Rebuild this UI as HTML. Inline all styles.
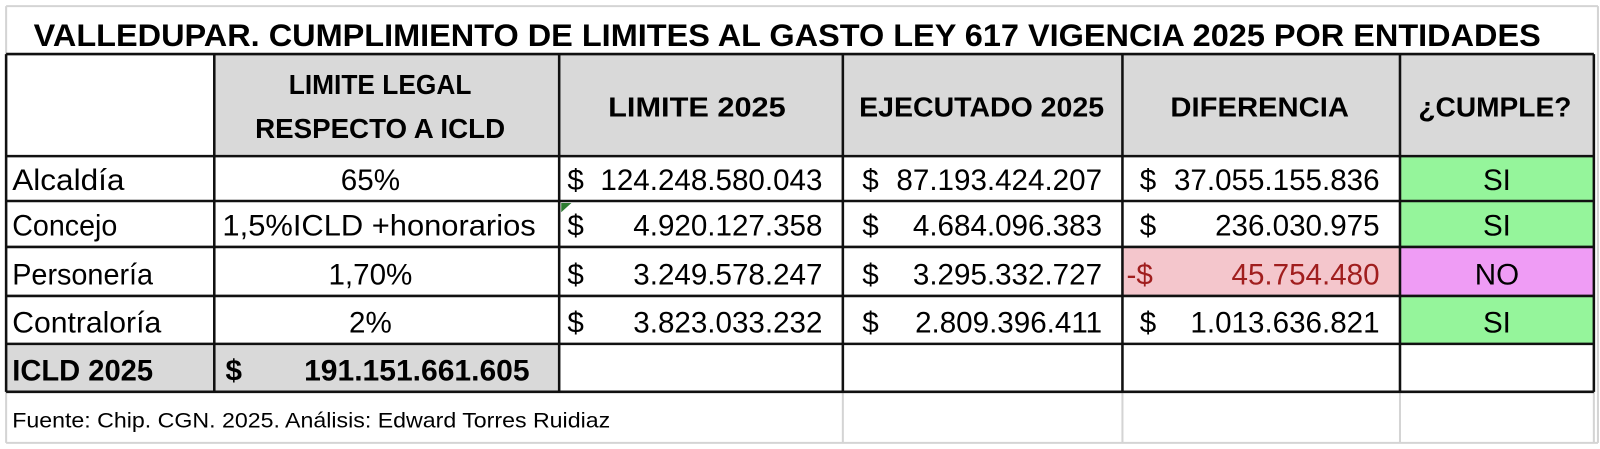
<!DOCTYPE html>
<html><head><meta charset="utf-8"><style>html,body{margin:0;padding:0;background:#fff;}svg{display:block}</style></head>
<body>
<svg width="1600" height="449" xmlns="http://www.w3.org/2000/svg" font-family="'Liberation Sans', sans-serif">
<rect width="1600" height="449" fill="#fff"/>
<g transform="scale(1.0204 1.0204)">
<rect x="210" y="53" width="1352" height="100" fill="#d9d9d9"/>
<rect x="6" y="337" width="542" height="47" fill="#d9d9d9"/>
<rect x="1372" y="153" width="190" height="44" fill="#95f59b"/>
<rect x="1372" y="197" width="190" height="45" fill="#95f59b"/>
<rect x="1372" y="290" width="190" height="47" fill="#95f59b"/>
<rect x="1372" y="242" width="190" height="48" fill="#ef9cf5"/>
<rect x="1100" y="242" width="272" height="48" fill="#f4c6cc"/>
<g stroke="#d4d4d4" stroke-width="2" fill="none">
<line x1="6" y1="6" x2="1566" y2="6"/>
<line x1="6" y1="6" x2="6" y2="434"/>
<line x1="1566" y1="6" x2="1566" y2="434"/>
<line x1="6" y1="434" x2="1566" y2="434"/>
<line x1="826" y1="384" x2="826" y2="434"/>
<line x1="1100" y1="384" x2="1100" y2="434"/>
<line x1="1372" y1="384" x2="1372" y2="434"/>
<line x1="1562" y1="384" x2="1562" y2="434"/>
</g>
<g stroke="#111" stroke-width="2.5" fill="none">
<line x1="6" y1="53" x2="1562" y2="53"/>
<line x1="6" y1="153" x2="1562" y2="153"/>
<line x1="6" y1="197" x2="1562" y2="197"/>
<line x1="6" y1="242" x2="1562" y2="242"/>
<line x1="6" y1="290" x2="1562" y2="290"/>
<line x1="6" y1="337" x2="1562" y2="337"/>
<line x1="6" y1="384" x2="1562" y2="384"/>
<line x1="6" y1="53" x2="6" y2="384"/>
<line x1="210" y1="53" x2="210" y2="384"/>
<line x1="548" y1="53" x2="548" y2="384"/>
<line x1="826" y1="53" x2="826" y2="384"/>
<line x1="1100" y1="53" x2="1100" y2="384"/>
<line x1="1372" y1="53" x2="1372" y2="384"/>
<line x1="1562" y1="53" x2="1562" y2="384"/>
</g>
<polygon points="550,199 560,199 550,208" fill="#2e7d32"/>
<text x="33" y="45" font-size="31" font-weight="bold" textLength="1477" lengthAdjust="spacingAndGlyphs" fill="#000">VALLEDUPAR. CUMPLIMIENTO DE LIMITES AL GASTO LEY 617 VIGENCIA 2025 POR ENTIDADES</text>
<g font-size="27" font-weight="bold" fill="#000">
<text x="283" y="92" textLength="179" lengthAdjust="spacingAndGlyphs">LIMITE LEGAL</text>
<text x="250" y="135" textLength="245" lengthAdjust="spacingAndGlyphs">RESPECTO A ICLD</text>
<text x="596" y="114" textLength="174" lengthAdjust="spacingAndGlyphs">LIMITE  2025</text>
<text x="842" y="114" textLength="240" lengthAdjust="spacingAndGlyphs">EJECUTADO 2025</text>
<text x="1147" y="114" textLength="175" lengthAdjust="spacingAndGlyphs">DIFERENCIA</text>
<text x="1390" y="114" textLength="150" lengthAdjust="spacingAndGlyphs">¿CUMPLE?</text>
</g>
<g font-size="29" fill="#000">
<text x="12" y="186" textLength="110" lengthAdjust="spacingAndGlyphs">Alcaldía</text>
<text x="363" y="186" text-anchor="middle">65%</text>
<text x="556" y="186">$</text>
<text x="806" y="186" text-anchor="end">124.248.580.043</text>
<text x="845" y="186">$</text>
<text x="1080" y="186" text-anchor="end">87.193.424.207</text>
<text x="1117" y="186">$</text>
<text x="1352" y="186" text-anchor="end">37.055.155.836</text>
<text x="1467" y="186" text-anchor="middle">SI</text>

<text x="12" y="231" textLength="103" lengthAdjust="spacingAndGlyphs">Concejo</text>
<text x="218" y="231" textLength="307" lengthAdjust="spacingAndGlyphs">1,5%ICLD +honorarios</text>
<text x="556" y="231">$</text>
<text x="806" y="231" text-anchor="end">4.920.127.358</text>
<text x="845" y="231">$</text>
<text x="1080" y="231" text-anchor="end">4.684.096.383</text>
<text x="1117" y="231">$</text>
<text x="1352" y="231" text-anchor="end">236.030.975</text>
<text x="1467" y="231" text-anchor="middle">SI</text>

<text x="12" y="279" textLength="138" lengthAdjust="spacingAndGlyphs">Personería</text>
<text x="363" y="279" text-anchor="middle">1,70%</text>
<text x="556" y="279">$</text>
<text x="806" y="279" text-anchor="end">3.249.578.247</text>
<text x="845" y="279">$</text>
<text x="1080" y="279" text-anchor="end">3.295.332.727</text>
<text x="1104" y="279" fill="#a01e1e">-$</text>
<text x="1352" y="279" text-anchor="end" fill="#a01e1e">45.754.480</text>
<text x="1467" y="279" text-anchor="middle">NO</text>

<text x="12" y="326" textLength="146" lengthAdjust="spacingAndGlyphs">Contraloría</text>
<text x="363" y="326" text-anchor="middle">2%</text>
<text x="556" y="326">$</text>
<text x="806" y="326" text-anchor="end">3.823.033.232</text>
<text x="845" y="326">$</text>
<text x="1080" y="326" text-anchor="end">2.809.396.411</text>
<text x="1117" y="326">$</text>
<text x="1352" y="326" text-anchor="end">1.013.636.821</text>
<text x="1467" y="326" text-anchor="middle">SI</text>
</g>
<g font-size="29" font-weight="bold" fill="#000">
<text x="12" y="373" textLength="138" lengthAdjust="spacingAndGlyphs">ICLD 2025</text>
<text x="221" y="373">$</text>
<text x="519" y="373" text-anchor="end" textLength="221" lengthAdjust="spacingAndGlyphs">191.151.661.605</text>
</g>
<text x="12" y="419" font-size="21" fill="#000" textLength="586" lengthAdjust="spacingAndGlyphs">Fuente: Chip. CGN. 2025. Análisis: Edward Torres Ruidiaz</text>
</g>
</svg>
</body></html>
